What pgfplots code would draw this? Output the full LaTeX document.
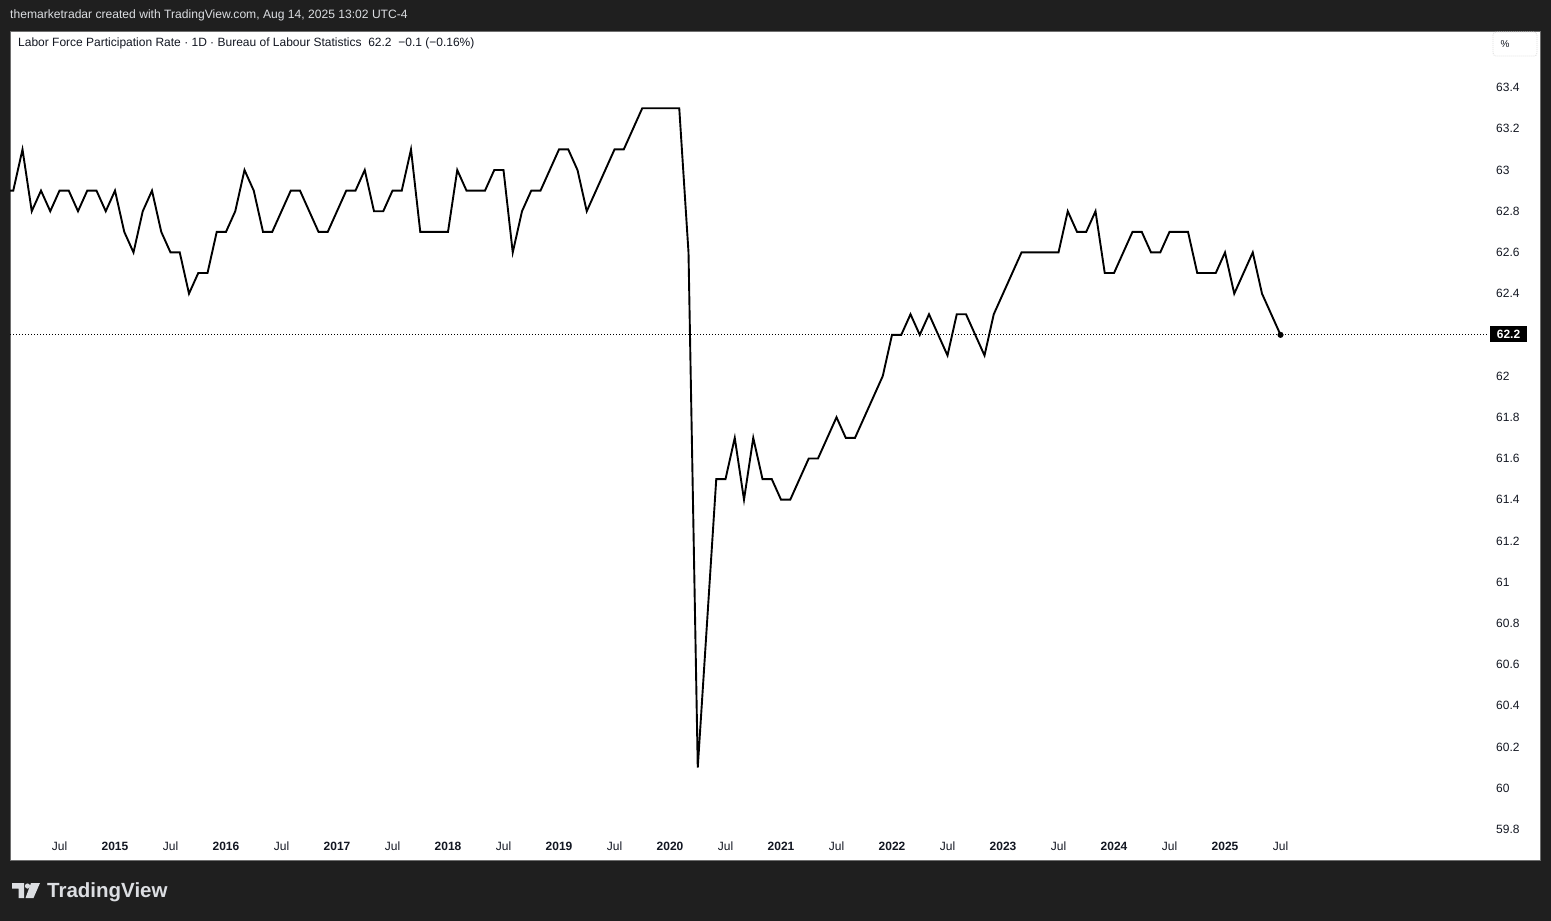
\documentclass[border=0pt]{standalone}
\usepackage{pgfplots}
\pgfplotsset{compat=1.18}
\usepackage{fontspec}
\setmainfont{Liberation Sans}
\definecolor{tvbg}{RGB}{31,31,31}
\definecolor{tvtext}{RGB}{19,23,34}
\definecolor{tvlight}{RGB}{220,222,226}
\definecolor{tvborder}{RGB}{110,110,110}

\begin{document}
\begin{tikzpicture}
% frame, drawn in screen pixels (1px = 1pt, y downwards)
\begin{scope}[x=1pt,y=-1pt]
\fill[tvbg] (0,0) rectangle (1551,921);
\fill[white] (10,31) rectangle (1540,860);
\draw[tvborder, line width=1pt] (10,31) rectangle (1540,860);
\node[anchor=base west, inner sep=0pt, text=tvlight, font=\fontsize{12.1}{14}\selectfont]
  at (10,18) {themarketradar created with TradingView.com, Aug 14, 2025 13:02 UTC-4};
\node[anchor=base west, inner sep=0pt, text=tvtext, font=\fontsize{12}{14}\selectfont]
  at (18,46) {Labor Force Participation Rate · 1D · Bureau of Labour Statistics\ \ 62.2\ \ −0.1 (−0.16\%)};
\end{scope}

\begin{axis}[
  at={(10pt,-32pt)}, anchor=north west,
  scale only axis, width=1478pt, height=801pt,
  xmin=0.6486, xmax=160.43, ymin=59.782, ymax=63.670,
  axis line style={draw=none}, tick style={draw=none},
  /pgf/number format/assume math mode=true,
  xtick={6,12,18,24,30,36,42,48,54,60,66,72,78,84,90,96,102,108,114,120,126,132,138},
  xticklabels={Jul,\textbf{2015},Jul,\textbf{2016},Jul,\textbf{2017},Jul,\textbf{2018},Jul,\textbf{2019},Jul,\textbf{2020},
    Jul,\textbf{2021},Jul,\textbf{2022},Jul,\textbf{2023},Jul,\textbf{2024},Jul,\textbf{2025},Jul},
  xticklabel style={anchor=base, inner sep=0pt, yshift=-17pt, text=tvtext, font=\fontsize{12}{14}\selectfont},
  ytick={59.8,60,60.2,60.4,60.6,60.8,61,61.2,61.4,61.6,61.8,62,62.4,62.6,62.8,63,63.2,63.4},
  yticklabels={59.8,60,60.2,60.4,60.6,60.8,61,61.2,61.4,61.6,61.8,62,62.4,62.6,62.8,63,63.2,63.4},
  yticklabel pos=right,
  yticklabel style={anchor=west, inner sep=0pt, xshift=8pt, text=tvtext, font=\fontsize{12}{14}\selectfont},
]
% last price line
\addplot[black, line width=0.8pt, dash pattern=on 1pt off 2pt] coordinates {(0.6486,62.2) (160.43,62.2)};

% monthly rate, month 0 = Jan 2014
\addplot[black, line width=1.9pt, line join=miter] coordinates {
(0,62.9) (1,62.9) (2,63.1) (3,62.8) (4,62.9) (5,62.8) (6,62.9) (7,62.9) (8,62.8) (9,62.9) (10,62.9) (11,62.8)
(12,62.9) (13,62.7) (14,62.6) (15,62.8) (16,62.9) (17,62.7) (18,62.6) (19,62.6) (20,62.4) (21,62.5) (22,62.5) (23,62.7)
(24,62.7) (25,62.8) (26,63.0) (27,62.9) (28,62.7) (29,62.7) (30,62.8) (31,62.9) (32,62.9) (33,62.8) (34,62.7) (35,62.7)
(36,62.8) (37,62.9) (38,62.9) (39,63.0) (40,62.8) (41,62.8) (42,62.9) (43,62.9) (44,63.1) (45,62.7) (46,62.7) (47,62.7)
(48,62.7) (49,63.0) (50,62.9) (51,62.9) (52,62.9) (53,63.0) (54,63.0) (55,62.6) (56,62.8) (57,62.9) (58,62.9) (59,63.0)
(60,63.1) (61,63.1) (62,63.0) (63,62.8) (64,62.9) (65,63.0) (66,63.1) (67,63.1) (68,63.2) (69,63.3) (70,63.3) (71,63.3)
(72,63.3) (73,63.3) (74,62.6) (75,60.1) (76,60.8) (77,61.5) (78,61.5) (79,61.7) (80,61.4) (81,61.7) (82,61.5) (83,61.5)
(84,61.4) (85,61.4) (86,61.5) (87,61.6) (88,61.6) (89,61.7) (90,61.8) (91,61.7) (92,61.7) (93,61.8) (94,61.9) (95,62.0)
(96,62.2) (97,62.2) (98,62.3) (99,62.2) (100,62.3) (101,62.2) (102,62.1) (103,62.3) (104,62.3) (105,62.2) (106,62.1) (107,62.3)
(108,62.4) (109,62.5) (110,62.6) (111,62.6) (112,62.6) (113,62.6) (114,62.6) (115,62.8) (116,62.7) (117,62.7) (118,62.8) (119,62.5)
(120,62.5) (121,62.6) (122,62.7) (123,62.7) (124,62.6) (125,62.6) (126,62.7) (127,62.7) (128,62.7) (129,62.5) (130,62.5) (131,62.5)
(132,62.6) (133,62.4) (134,62.5) (135,62.6) (136,62.4) (137,62.3) (138,62.2)
};
\addplot[only marks, mark=*, mark size=2.8pt, black] coordinates {(138,62.2)};
\end{axis}

\begin{scope}[x=1pt,y=-1pt]
% last value tag on the price scale
\node[fill=black, text=white, inner sep=0pt, minimum width=37pt, minimum height=16pt,
  font=\bfseries\fontsize{12}{14}\selectfont] at (1508.5,334) {62.2};
% percent button
\draw[gray!25, line width=0.8pt, dash pattern=on 1pt off 1pt, rounded corners=3pt] (1493,32) rectangle (1537,56);
\node[text=tvtext, inner sep=0pt, font=\fontsize{10}{12}\selectfont] at (1505,44) {\%};
% TradingView logo
\fill[tvlight] (12,883) -- (24,883) -- (24,898) -- (18.5,898) -- (18.5,888.5) -- (12,888.5) -- cycle;
\fill[tvlight] (27.5,886) circle (2.6);
\fill[tvlight] (31,883) -- (40,883) -- (33.5,898) -- (25.5,898) -- cycle;
\node[anchor=base west, inner sep=0pt, text=tvlight, font=\bfseries\fontsize{20.5}{24}\selectfont]
  at (47,897) {TradingView};
\end{scope}
\end{tikzpicture}
\end{document}
